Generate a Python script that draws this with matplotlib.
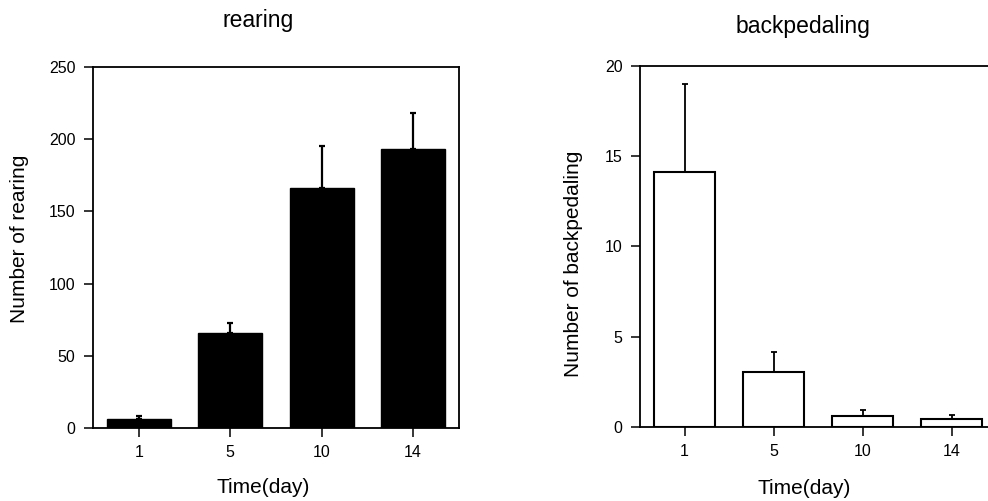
import matplotlib.pyplot as plt

days = ['1', '5', '10', '14']

rearing = [6, 65.5, 166.5, 193]
rearing_err = [2.3, 7, 28.5, 25]

backpedaling = [14.1, 3.05, 0.63, 0.46]
backpedaling_err = [4.9, 1.08, 0.31, 0.2]

plt.rcParams['font.family'] = ['Liberation Sans', 'DejaVu Sans']

fig = plt.figure(figsize=(9.88, 5.01), dpi=100)

ax1 = fig.add_axes([0.0941, 0.1457, 0.3704, 0.7206])
ax2 = fig.add_axes([0.6478, 0.1477, 0.3603, 0.7212])

x = range(len(days))

# left panel - filled bars
ax1.bar(x, rearing, width=0.7, color='black', edgecolor='black', linewidth=1.0)
ax1.errorbar(x, rearing, yerr=[[0] * 4, rearing_err], fmt='none',
             ecolor='black', elinewidth=1.6, capsize=2.5, capthick=1.6)
ax1.set_ylim(0, 250)
ax1.set_yticks([0, 50, 100, 150, 200, 250])

# right panel - open bars
ax2.bar(x, backpedaling, width=0.68, color='white', edgecolor='black', linewidth=1.5)
ax2.errorbar(x, backpedaling, yerr=[[0] * 4, backpedaling_err], fmt='none',
             ecolor='black', elinewidth=1.3, capsize=2.5, capthick=1.3)
ax2.set_ylim(0, 20)
ax2.set_yticks([0, 5, 10, 15, 20])

for ax in (ax1, ax2):
    ax.set_xlim(-0.5, 3.5)
    ax.set_xticks(list(x))
    ax.set_xticklabels(days)
    ax.tick_params(direction='out', length=6.5, width=1.1, labelsize=11.5)
    ax.tick_params(axis='y', pad=6)
    ax.tick_params(axis='x', pad=6)
    for s in ax.spines.values():
        s.set_linewidth(1.3)
    ax.set_xlabel('Time(day)', fontsize=15, va='center')

ax1.set_ylabel('Number of rearing', fontsize=15, va='center')
ax2.set_ylabel('Number of backpedaling', fontsize=15, va='center')

ax1.xaxis.set_label_coords(0.4645, -0.166)
ax2.xaxis.set_label_coords(0.46, -0.17)
ax1.yaxis.set_label_coords(-0.1995, 0.5235)
ax2.yaxis.set_label_coords(-0.188, 0.451)

# titles
fig.text(258.5 / 988, 1 - 20 / 501, 'rearing', fontsize=16.5, ha='center', va='center')
fig.text(802.5 / 988, 1 - 27 / 501, 'backpedaling', fontsize=16.5, ha='center', va='center')

fig.savefig('out.png', dpi=100)
